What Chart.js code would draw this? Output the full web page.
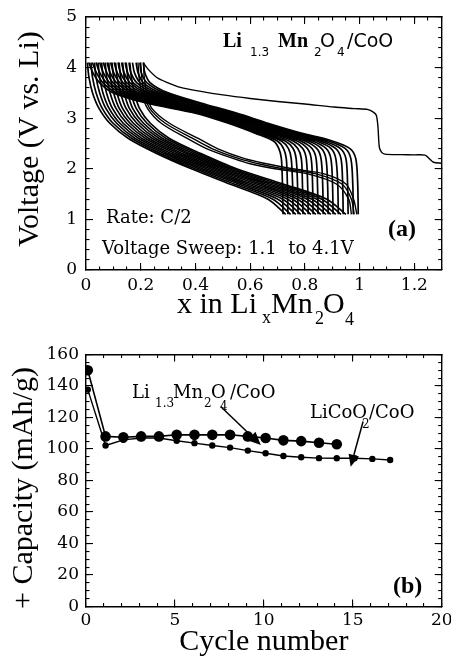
<!DOCTYPE html>
<html><head><meta charset="utf-8">
<script src="https://cdn.jsdelivr.net/npm/chart.js@4.4.1/dist/chart.umd.min.js"></script>
<style>
html,body{margin:0;padding:0;background:#fff;}
#wrap{position:relative;width:451px;height:657px;overflow:hidden;background:#fff;}
canvas{position:absolute;left:0;}
#cA{top:0}
#cB{top:330px}
.t{position:absolute;white-space:pre;line-height:1;color:#000;}
.rot{position:absolute;white-space:pre;line-height:1;color:#000;transform:translate(-50%,-50%) rotate(-90deg);}
</style></head><body>
<div id="wrap">
<canvas id="cA" width="451" height="330"></canvas>
<canvas id="cB" width="451" height="327"></canvas>
</div>
<script>
// ---------- DATA: panel (a) ----------
const firstDischargeX = [0.21,0.23,0.26,0.3,0.345,0.42,0.5,0.6,0.7,0.8,0.907,0.98,1.031,1.05,1.061,1.067,1.072,1.08,1.092,1.15,1.2,1.239,1.255,1.27,1.3];
const firstDischargeV = [4.09,3.95,3.8,3.7,3.61,3.53,3.46,3.39,3.33,3.28,3.22,3.19,3.17,3.12,3.06,2.83,2.43,2.33,2.29,2.28,2.275,2.27,2.2,2.13,2.11];

const chargeV = [1.1,1.7,2.2,2.4,2.55,2.7,2.9,3.1,3.3,3.5,3.7,3.9,4.1];
const chargeX = [
  [0.72,0.718,0.714,0.705,0.685,0.62,0.52,0.4,0.22,0.1,0.05,0.025,0.01],
  [0.738,0.736,0.732,0.722,0.699,0.631,0.53,0.41,0.233,0.113,0.062,0.038,0.023],
  [0.757,0.755,0.75,0.74,0.714,0.643,0.539,0.42,0.247,0.127,0.075,0.05,0.037],
  [0.775,0.773,0.768,0.757,0.728,0.654,0.549,0.43,0.26,0.14,0.087,0.063,0.05],
  [0.793,0.791,0.787,0.774,0.742,0.665,0.559,0.44,0.273,0.153,0.099,0.076,0.063],
  [0.812,0.81,0.805,0.792,0.757,0.677,0.568,0.45,0.287,0.167,0.112,0.088,0.077],
  [0.83,0.828,0.823,0.809,0.771,0.688,0.578,0.46,0.3,0.18,0.124,0.101,0.09],
  [0.848,0.846,0.841,0.826,0.785,0.699,0.588,0.47,0.313,0.193,0.136,0.114,0.103],
  [0.867,0.865,0.859,0.844,0.8,0.711,0.597,0.48,0.327,0.207,0.149,0.126,0.117],
  [0.885,0.883,0.877,0.861,0.814,0.722,0.607,0.49,0.34,0.22,0.161,0.139,0.13],
  [0.903,0.901,0.895,0.878,0.828,0.733,0.617,0.5,0.353,0.233,0.173,0.152,0.143],
  [0.922,0.92,0.913,0.896,0.843,0.745,0.626,0.51,0.367,0.247,0.186,0.164,0.157],
  [0.94,0.938,0.932,0.913,0.857,0.756,0.636,0.52,0.38,0.26,0.198,0.177,0.17],
  [0.958,0.956,0.95,0.93,0.871,0.767,0.646,0.53,0.393,0.273,0.21,0.19,0.183],
  [0.977,0.975,0.968,0.948,0.886,0.779,0.655,0.54,0.407,0.287,0.223,0.202,0.197],
  [0.995,0.993,0.986,0.965,0.9,0.79,0.665,0.55,0.42,0.3,0.235,0.215,0.21]
];

const dischargeV = [4.1,3.8,3.5,3.2,2.9,2.6,2.3,2.0,1.7,1.4,1.1];
const dischargeX = [
  [0.005,0.011,0.024,0.047,0.087,0.155,0.26,0.385,0.525,0.665,0.73],
  [0.018,0.024,0.037,0.059,0.099,0.168,0.273,0.399,0.541,0.683,0.748],
  [0.031,0.037,0.05,0.072,0.112,0.18,0.287,0.413,0.558,0.701,0.767],
  [0.044,0.05,0.062,0.084,0.124,0.193,0.3,0.426,0.574,0.719,0.785],
  [0.057,0.063,0.075,0.096,0.136,0.205,0.313,0.44,0.59,0.737,0.803],
  [0.07,0.076,0.088,0.109,0.149,0.218,0.327,0.454,0.606,0.755,0.822],
  [0.083,0.089,0.101,0.121,0.161,0.23,0.34,0.468,0.623,0.773,0.84],
  [0.095,0.101,0.113,0.133,0.173,0.243,0.353,0.481,0.639,0.79,0.858],
  [0.108,0.114,0.126,0.146,0.186,0.255,0.367,0.495,0.655,0.808,0.877],
  [0.121,0.127,0.139,0.158,0.198,0.268,0.38,0.509,0.671,0.826,0.895],
  [0.134,0.14,0.152,0.17,0.21,0.28,0.393,0.523,0.688,0.844,0.913],
  [0.147,0.153,0.164,0.183,0.223,0.293,0.407,0.536,0.704,0.862,0.932],
  [0.16,0.166,0.177,0.195,0.235,0.305,0.42,0.55,0.72,0.88,0.95]
];

// the first three (early-cycle) discharge curves lie above the dense band
const outerDischargeV = [4.1,3.8,3.5,3.2,2.9,2.6,2.4,2.2,2.1,2.0,1.9,1.7,1.4,1.1];
const outerDischargeX = [
  [0.19,0.194,0.204,0.224,0.275,0.37,0.44,0.54,0.6,0.69,0.81,0.915,0.96,0.97],
  [0.2,0.204,0.213,0.232,0.29,0.39,0.46,0.56,0.63,0.72,0.84,0.935,0.97,0.98],
  [0.21,0.213,0.222,0.24,0.305,0.41,0.48,0.58,0.66,0.755,0.87,0.95,0.978,0.99]
];

const xTickLabelsA = ['0','0.2','0.4','0.6','0.8','1','1.2'];
const yTickLabelsA = ['0','1','2','3','4','5'];

// ---------- DATA: panel (b) ----------
const cycleMn = [0.1,1.1,2.1,3.1,4.1,5.1,6.1,7.1,8.1,9.1,10.1,11.1,12.1,13.1,14.1];
const capacityMn = [150,108,107.5,108,108,109,109,109,109,108,107,105.5,105,104,103];
const cycleCo = [0.1,1.1,2.1,3.1,4.1,5.1,6.1,7.1,8.1,9.1,10.1,11.1,12.1,13.1,14.1,15.1,16.1,17.1];
const capacityCo = [137.7,102.2,105.8,107,107,105.2,103.7,102.2,100.9,99,97.3,95.6,94.8,94.2,94.1,94.1,93.7,93];

const xTickLabelsB = ['0','5','10','15','20'];
const yTickLabelsB = ['0','20','40','60','80','100','120','140','160'];

// ---------- rendering ----------
Chart.defaults.font.family = 'DejaVu Serif';
Chart.defaults.color = '#000';

function fixSize(prop, val) {
  return function (scale) {
    scale[prop] = val;
    scale.paddingLeft = 0; scale.paddingRight = 0; scale.paddingTop = 0; scale.paddingBottom = 0;
  };
}

// one framed axis side: major or minor inward ticks drawn by Chart.js grid ticks
function side(axis, position, min, max, step, tickLen, withBorder, weight, size, labelOpts) {
  const s = {
    type: 'linear', axis: axis, position: position, min: min, max: max, weight: weight,
    grid: {display: true, drawOnChartArea: false, drawTicks: true, tickLength: -tickLen, color: '#000', lineWidth: 1.1},
    border: {display: withBorder, color: '#000', width: 1.4},
    ticks: {stepSize: step, includeBounds: false, display: false, autoSkip: false, maxRotation: 0},
    afterFit: fixSize(axis === 'x' ? 'height' : 'width', size)
  };
  if (labelOpts) Object.assign(s.ticks, {display: true}, labelOpts);
  return s;
}

function makeArrows(id, list) {
  return {
    id: id,
    afterDraw(chart) {
      const ctx = chart.ctx;
      const sx = chart.scales.x, sy = chart.scales.y;
      ctx.save();
      ctx.setLineDash([]);
      ctx.strokeStyle = '#000'; ctx.fillStyle = '#000'; ctx.lineWidth = 1.5;
      list.forEach(ar => {
        const x1 = sx.getPixelForValue(ar.from[0]), y1 = sy.getPixelForValue(ar.from[1]);
        const x2 = sx.getPixelForValue(ar.to[0]), y2 = sy.getPixelForValue(ar.to[1]);
        const ang = Math.atan2(y2 - y1, x2 - x1);
        const hl = ar.head, hw = ar.head * 0.45;
        const bx = x2 - hl * Math.cos(ang), by = y2 - hl * Math.sin(ang);
        ctx.beginPath(); ctx.moveTo(x1, y1); ctx.lineTo(bx, by); ctx.stroke();
        ctx.beginPath();
        ctx.moveTo(x2, y2);
        ctx.lineTo(bx + hw * Math.sin(ang), by - hw * Math.cos(ang));
        ctx.lineTo(bx - hw * Math.sin(ang), by + hw * Math.cos(ang));
        ctx.closePath(); ctx.fill();
      });
      ctx.restore();
    }
  };
}

function curve(xs, vs, width) {
  return {
    data: xs.map((x, i) => ({x: x, y: vs[i]})), xAxisID: 'x', yAxisID: 'y',
    showLine: true, borderColor: '#000', borderWidth: width, pointRadius: 0,
    tension: 0.3, fill: false
  };
}

const dsA = [curve(firstDischargeX, firstDischargeV, 1.4)];
chargeX.forEach(xs => dsA.push(curve(xs, chargeV, 1.7)));
dischargeX.forEach(xs => dsA.push(curve(xs, dischargeV, 1.7)));
outerDischargeX.forEach(xs => dsA.push(curve(xs, outerDischargeV, 1.4)));

new Chart(document.getElementById('cA'), {
  type: 'scatter',
  data: {datasets: dsA},
  options: {
    responsive: false, animation: false, events: [],
    layout: {padding: {top: 17, right: 9.3, left: 0, bottom: 0}},
    plugins: {legend: {display: false}, tooltip: {enabled: false}},
    scales: {
      x: side('x', 'bottom', 0, 1.3, 0.2, 7, true, 0, 60,
             {padding: 12, font: {size: 17}, callback: (v, i) => xTickLabelsA[i]}),
      y: side('y', 'left', 0, 5, 1, 7, true, 0, 86,
             {padding: 16, font: {size: 17}, callback: (v, i) => yTickLabelsA[i]}),
      xMinor: side('x', 'bottom', 0, 1.3, 0.05, 3.5, false, -1, 0),
      yMinor: side('y', 'left', 0, 5, 0.2, 3.5, false, -1, 0),
      xTop: side('x', 'top', 0, 1.3, 0.2, 7, true, 0, 0),
      xTopMinor: side('x', 'top', 0, 1.3, 0.05, 3.5, false, -1, 0),
      yRight: side('y', 'right', 0, 5, 1, 7, true, 0, 0),
      yRightMinor: side('y', 'right', 0, 5, 0.2, 3.5, false, -1, 0)
    }
  }
});

const xB = side('x', 'bottom', 0, 20, 5, 7, true, 0, 50.5,
                {padding: 11, font: {size: 17}, callback: (v, i) => xTickLabelsB[i]});
xB.title = {display: true, text: 'Cycle number', font: {family: 'Liberation Serif', size: 30, lineHeight: 1}, padding: {top: 0, bottom: 0}};

new Chart(document.getElementById('cB'), {
  type: 'scatter',
  data: {datasets: [
    {data: cycleMn.map((x, i) => ({x: x, y: capacityMn[i]})), xAxisID: 'x', yAxisID: 'y',
     showLine: true, borderColor: '#000', borderWidth: 1.6,
     pointRadius: 5.3, pointBackgroundColor: '#000', pointBorderColor: '#000', pointBorderWidth: 0, tension: 0},
    {data: cycleCo.map((x, i) => ({x: x, y: capacityCo[i]})), xAxisID: 'x', yAxisID: 'y',
     showLine: true, borderColor: '#000', borderWidth: 1.4,
     pointRadius: 3.2, pointBackgroundColor: '#000', pointBorderColor: '#000', pointBorderWidth: 0, tension: 0}
  ]},
  options: {
    responsive: false, animation: false, events: [],
    layout: {padding: {top: 24.5, right: 9.3, left: 0, bottom: 0}},
    plugins: {legend: {display: false}, tooltip: {enabled: false}},
    scales: {
      x: xB,
      y: side('y', 'left', 0, 160, 20, 7, true, 0, 86,
             {padding: 14, font: {size: 17}, callback: (v, i) => yTickLabelsB[i]}),
      xMinor: side('x', 'bottom', 0, 20, 1, 3.5, false, -1, 0),
      yMinor: side('y', 'left', 0, 160, 5, 3.5, false, -1, 0),
      xTop: side('x', 'top', 0, 20, 5, 7, true, 0, 0),
      xTopMinor: side('x', 'top', 0, 20, 1, 3.5, false, -1, 0),
      yRight: side('y', 'right', 0, 160, 20, 7, true, 0, 0),
      yRightMinor: side('y', 'right', 0, 160, 5, 3.5, false, -1, 0)
    }
  },
  plugins: [makeArrows('arrowsB', [
    {from: [7.57, 127], to: [9.83, 102.6], head: 13},
    {from: [15.58, 117.5], to: [14.88, 88.8], head: 12}
  ])]
});

// ---------- text (HTML) ----------
const wrap = document.getElementById('wrap');
function put(txt, x, base, size, family, weight) {
  const s = document.createElement('div');
  s.className = 't';
  s.textContent = txt;
  s.style.left = x + 'px';
  s.style.top = (base - 0.84 * size) + 'px';
  s.style.fontSize = size + 'px';
  s.style.fontFamily = family;
  s.style.fontWeight = weight || 'normal';
  wrap.appendChild(s);
}
function putRot(txt, cx, cy, size, family) {
  const s = document.createElement('div');
  s.className = 'rot';
  s.textContent = txt;
  s.style.left = cx + 'px';
  s.style.top = cy + 'px';
  s.style.fontSize = size + 'px';
  s.style.fontFamily = family;
  wrap.appendChild(s);
}
const SER = "'Liberation Serif', serif", DSER = "'DejaVu Serif', serif", DSAN = "'DejaVu Sans', sans-serif";
putRot('Voltage (V vs. Li)', 28, 139, 30, SER);
putRot('+ Capacity (mAh/g)', 22, 488, 30, SER);
put('x in Li', 177, 313, 30, SER);
put('x', 262, 323, 18, SER);
put('Mn', 271, 313, 30, SER);
put('2', 315, 324, 18, SER);
put('O', 323, 313, 30, SER);
put('4', 345, 325, 18, SER);
put('Li', 223, 47, 20, SER, 'bold');
put('1.3', 250, 56, 12, DSAN);
put('Mn', 278, 47, 20, SER, 'bold');
put('2', 314, 56, 12, DSAN);
put('O', 320, 47, 19, DSAN);
put('4', 337, 56, 12, DSAN);
put('/CoO', 347, 47, 19, DSAN);
put('Rate: C/2', 106, 223, 18, DSER);
put('Voltage Sweep: 1.1\u00a0\u00a0to 4.1V', 102, 254, 18, DSER);
put('(a)', 388, 236, 24, SER, 'bold');
put('Li', 132, 398, 18, DSER);
put('1.3', 155, 407, 12, DSER);
put('Mn', 173, 398, 18, DSER);
put('2', 204, 407, 12, DSER);
put('O', 211, 398, 18, DSER);
put('4', 220, 410, 12, DSER);
put('/CoO', 230, 398, 18, DSER);
put('LiCoO', 310, 418, 18, DSER);
put('2', 362, 428, 12, DSER);
put('/CoO', 369, 418, 18, DSER);
put('(b)', 393, 593, 24, SER, 'bold');
</script>
</body></html>
